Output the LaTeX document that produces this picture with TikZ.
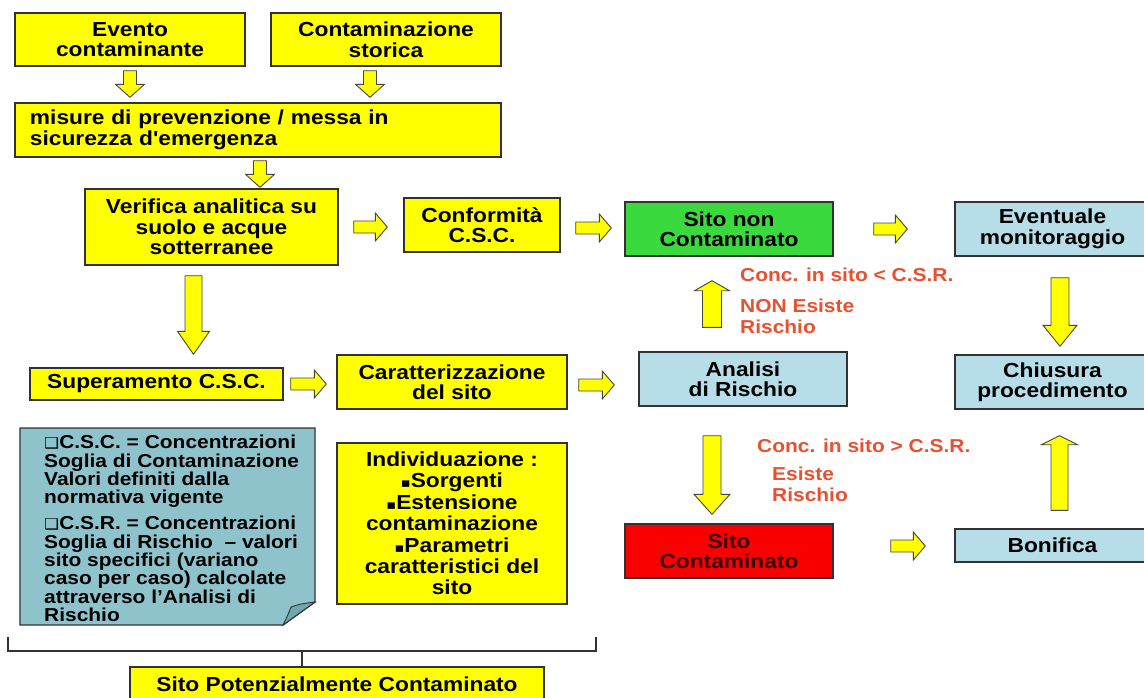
\documentclass[tikz,border=0pt]{standalone}
\usepackage{fontspec}
\setmainfont{Liberation Sans}[FakeStretch=1.12]
\newfontfamily\symfont{DejaVu Sans}[FakeStretch=1.12]
\newfontfamily\apfont{Liberation Sans}[FakeStretch=1.12, Ligatures=TeXOff]
\usetikzlibrary{calc}
\definecolor{ylw}{RGB}{255,255,0}
\definecolor{grn}{RGB}{58,218,62}
\definecolor{lblue}{RGB}{183,221,232}
\definecolor{notef}{RGB}{143,195,204}
\definecolor{foldf}{RGB}{112,168,178}
\definecolor{redf}{RGB}{250,0,0}
\definecolor{redtxt}{RGB}{232,80,48}
\definecolor{boxline}{RGB}{50,50,50}
\definecolor{arrline}{RGB}{70,70,60}
\definecolor{darkred}{RGB}{60,0,0}
\newcommand\boxfont{\fontsize{20.3}{20.5}\selectfont\bfseries}
\newcommand\notefont{\fontsize{18.7}{18.3}\selectfont\bfseries}
\newcommand\redfont{\fontsize{18.7}{21}\selectfont\bfseries}
\newcommand\indfont{\fontsize{20.3}{21.4}\selectfont\bfseries}
\newcommand\sqbul{{\symfont\fontsize{13}{13}\selectfont ▪}}
\newcommand\notebul{{\symfont\fontsize{15}{15}\selectfont ❑}}
\newcommand\blockarrow[5]{%
  \coordinate (bS) at (#1);
  \coordinate (bE) at (#2);
  \coordinate (bH) at ($(bE)!#5pt!(bS)$);
  \draw[blockarr] ($(bS)!#3pt!90:(bE)$) -- ($(bH)!#3pt!90:(bE)$) -- ($(bH)!#4pt!90:(bE)$)
    -- (bE) -- ($(bH)!#4pt!-90:(bE)$) -- ($(bH)!#3pt!-90:(bE)$) -- ($(bS)!#3pt!-90:(bE)$) -- cycle;}
\begin{document}
\begin{tikzpicture}[x=1pt,y=-1pt,
  box/.style={draw=boxline, line width=1.4pt, inner sep=0pt, align=center, font=\boxfont, text=black},
  ybox/.style={box, fill=ylw},
  gbox/.style={box, fill=grn},
  bbox/.style={box, fill=lblue},
  rbox/.style={box, fill=redf, text=darkred},
  blockarr/.style={draw=arrline, fill=ylw, line width=0.9pt, line join=miter},
  redlbl/.style={inner sep=0pt, align=left, font=\redfont, text=redtxt, anchor=west},
  bracket/.style={draw=boxline, line width=2.2pt}]
\useasboundingbox (0,0) rectangle (1144,697);
\clip (0,0) rectangle (1144,697);
\fill[white] (0,0) rectangle (1144,697);

% boxes
\node[ybox, minimum width=230, minimum height=53] (evento) at (130,39.5) {Evento\\contaminante};
\node[ybox, minimum width=230, minimum height=53] (storica) at (386,39.5) {Contaminazione\\storica};
\node[ybox, minimum height=54, text width=456, inner xsep=15pt, align=left] (misure) at (258,130) {misure di prevenzione / messa in\\sicurezza d{\apfont\bfseries '}emergenza};
\node[ybox, minimum width=253, minimum height=76] (verifica) at (211.5,227) {Verifica analitica su\\suolo e acque\\sotterranee};
\node[ybox, minimum width=156, minimum height=54] (conformita) at (482,225) {Conformità\\C.S.C.};
\node[gbox, minimum width=208, minimum height=54] (sitonon) at (729,229) {Sito non\\Contaminato};
\node[bbox, minimum width=195, minimum height=54] (eventuale) at (1052.5,229) {Eventuale\\monitoraggio};
\node[ybox, minimum width=253, minimum height=32] (superamento) at (156.5,384) {Superamento C.S.C.};
\node[ybox, minimum width=230, minimum height=54] (caratt) at (452,382) {Caratterizzazione\\del sito};
\node[bbox, minimum width=208, minimum height=54] (analisi) at (743,379) {Analisi\\di Rischio};
\node[bbox, minimum width=195, minimum height=54] (chiusura) at (1052.5,382) {Chiusura\\procedimento};
\node[ybox, minimum width=230, minimum height=161, font=\indfont] (individ) at (452,523.5)
  {Individuazione :\\\sqbul Sorgenti\\\sqbul Estensione\\contaminazione\\\sqbul Parametri\\caratteristici del\\sito};
\node[rbox, minimum width=208, minimum height=54] (sitocont) at (729,551) {Sito\\Contaminato};
\node[bbox, minimum width=195, minimum height=33] (bonifica) at (1052.5,545.5) {Bonifica};
\node[ybox, minimum width=414, minimum height=34] (spc) at (337,684) {Sito Potenzialmente Contaminato};

% note box
\draw[draw=boxline, line width=1.4pt, fill=notef, line join=miter] (20,428) -- (315,428) -- (315,602) -- (283,625) -- (20,625) -- cycle;
\draw[draw=boxline, line width=0.9pt, fill=foldf] (315,602) -- (283,625) .. controls (287,617) .. (291,607) .. controls (300,604) .. (315,602) -- cycle;
\node[inner sep=0pt, anchor=north west, align=left, font=\notefont] (notetxt) at (44,435)
  {\notebul C.S.C. = Concentrazioni\\
   Soglia di Contaminazione\\
   Valori definiti dalla\\
   normativa vigente\\[8pt]
   \notebul C.S.R. = Concentrazioni\\
   Soglia di Rischio \ – valori\\
   sito specifici (variano\\
   caso per caso) calcolate\\
   attraverso l’Analisi di\\
   Rischio};

% red labels
\node[redlbl] (lt) at (740,275) {Conc. in sito < C.S.R.};
\node[redlbl] (nonrischio) at (740,316.5) {NON Esiste\\Rischio};
\node[redlbl] (gt) at (757,446) {Conc. in sito > C.S.R.};
\node[redlbl] (rischio) at (772,484.5) {Esiste\\Rischio};

% block arrows
\blockarrow{$(evento.south)+(0,4)$}{$(evento.south |- misure.north)+(0,-5)$}{6.5}{14.5}{13}
\blockarrow{$(storica.south)+(-16,4)$}{$(storica.south |- misure.north)+(-16,-5)$}{6.5}{14.5}{13}
\blockarrow{$(misure.south)+(2,3)$}{$(misure.south |- verifica.north)+(2,-1)$}{6.5}{14.5}{13}
\blockarrow{$(verifica.east)+(15,0)$}{$(verifica.east -| conformita.west)+(-16,0)$}{6}{14}{12}
\blockarrow{$(conformita.east)+(15,3)$}{$(sitonon.west)+(-13,-1)$}{6}{14}{12}
\blockarrow{$(sitonon.east)+(40,0)$}{$(eventuale.west)+(-47,0)$}{6}{14}{12}
\blockarrow{$(verifica.south)+(-18,10)$}{$(verifica.south |- superamento.north)+(-18,-13)$}{8.5}{16}{23}
\blockarrow{$(superamento.east)+(7,0)$}{$(superamento.east -| caratt.west)+(-10,0)$}{6}{14}{12}
\blockarrow{$(caratt.east)+(11,3)$}{$(caratt.east -| analisi.west)+(-24,3)$}{6}{14}{12}
\blockarrow{$(analisi.north)+(-31,-24)$}{$(analisi.north |- sitonon.south)+(-31,24)$}{9.5}{17.5}{10}
\blockarrow{$(eventuale.south)+(7.5,21)$}{$(eventuale.south |- chiusura.north)+(7.5,-8)$}{9}{17}{21}
\blockarrow{$(analisi.south)+(-31,29)$}{$(analisi.south |- sitocont.north)+(-31,-9)$}{9}{18}{20}
\blockarrow{$(sitocont.east)+(57,-5)$}{$(bonifica.west)+(-29,0.5)$}{6}{14}{12}
\blockarrow{$(bonifica.north)+(7,-18)$}{$(bonifica.north |- chiusura.south)+(7,26)$}{8.5}{18}{9}

% bracket
\coordinate (brL) at (8,637);
\coordinate (brR) at (596,637);
\coordinate (brM) at (302,651);
\draw[bracket] (brL) |- (brM) -| (brR);
\draw[bracket] (brM) -- (brM |- spc.north);
\end{tikzpicture}
\end{document}
